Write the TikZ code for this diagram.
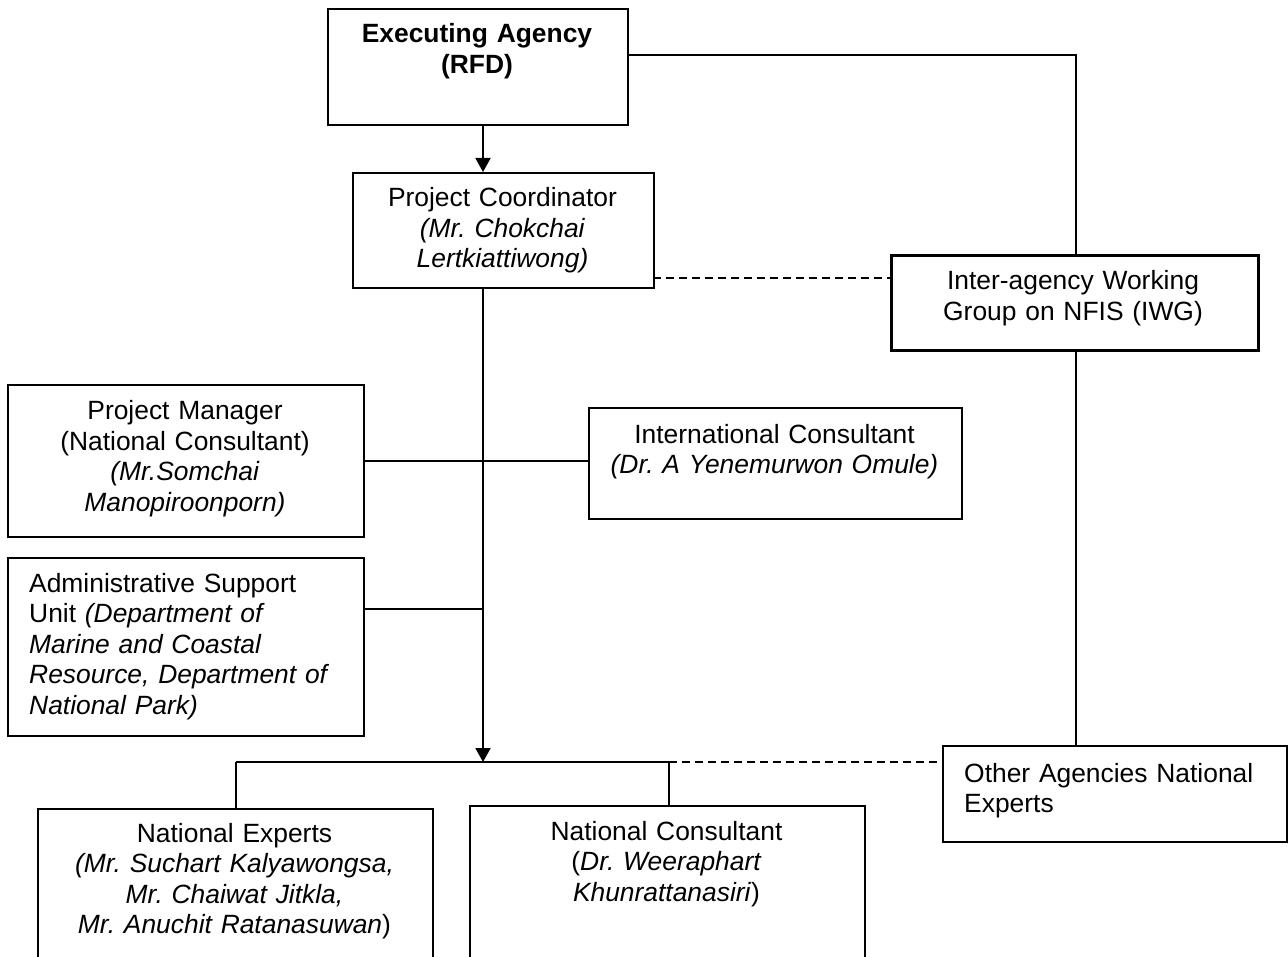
\documentclass[tikz,border=0pt]{standalone}
\usepackage{fontspec}
\setmainfont{Liberation Sans}
\usetikzlibrary{arrows.meta}
\begin{document}
\frenchspacing
\begin{tikzpicture}[x=1pt,y=-1pt,
  box/.style={draw, line width=1.7pt, inner sep=0pt, anchor=north west},
  boldbox/.style={box, line width=3.3pt},
  txt/.style={inner sep=0pt, align=center, font=\fontsize{26.4}{30.5}\selectfont},
  ltxt/.style={inner sep=0pt, align=left, font=\fontsize{26.4}{30.5}\selectfont},
  conn/.style={line width=1.9pt},
  dline/.style={line width=1.7pt, dash pattern=on 8pt off 5pt},
  arr/.style={conn, -{Triangle[width=15pt,length=14pt]}}]
\clip (0,0) rectangle (1288,957);
\fill[white] (0,0) rectangle (1288,957);
% boxes
\node[box, minimum width=300pt, minimum height=116pt] (exec) at (327,8) {};
\node[box, minimum width=301pt, minimum height=115pt] (pc) at (352,172) {};
\node[boldbox, minimum width=367pt, minimum height=95pt] (iwg) at (890,254) {};
\node[box, minimum width=356pt, minimum height=152pt] (pm) at (7,384) {};
\node[box, minimum width=373pt, minimum height=111pt] (ic) at (588,407) {};
\node[box, minimum width=356pt, minimum height=178pt] (admin) at (7,557) {};
\node[box, minimum width=344pt, minimum height=96pt] (other) at (942,745) {};
\node[box, minimum width=395pt, minimum height=170pt] (ne) at (37,808) {};
\node[box, minimum width=395pt, minimum height=170pt] (nc) at (469,805) {};
% texts
\node[txt, text width=300pt, anchor=base] (exect) at (477,43) {\textbf{Executing Agency}\\\textbf{(RFD)}};
\node[txt, text width=300pt, anchor=base] (pct) at (502.5,207) {Project Coordinator\\\textit{(Mr. Chokchai}\\\textit{Lertkiattiwong)}};
\node[txt, text width=360pt, anchor=base] (iwgt) at (1073,290) {Inter-agency Working\\Group on NFIS (IWG)};
\node[txt, text width=350pt, anchor=base] (pmt) at (185,420) {Project Manager\\(National Consultant)\\\textit{(Mr.Somchai}\\\textit{Manopiroonporn)}};
\node[txt, text width=370pt, anchor=base] (ict) at (774.5,443) {International Consultant\\\textit{(Dr. A Yenemurwon Omule)}};
\node[ltxt, text width=330pt, anchor=base west] (admint) at (29,592) {Administrative Support\\Unit \textit{(Department of}\\\textit{Marine and Coastal}\\\textit{Resource, Department of}\\\textit{National Park)}};
\node[ltxt, text width=320pt, anchor=base west] (othert) at (964,782) {Other Agencies National\\Experts};
\node[txt, text width=390pt, anchor=base] (net) at (234.5,842) {National Experts\\\textit{(Mr. Suchart Kalyawongsa,}\\\textit{Mr. Chaiwat Jitkla,}\\\textit{Mr. Anuchit Ratanasuwan})};
\node[txt, text width=390pt, anchor=base] (nct) at (666.5,840) {National Consultant\\(\textit{Dr. Weeraphart}\\\textit{Khunrattanasiri})};
% coordinates
\coordinate (bus) at (483,762);
\coordinate (busL) at (236,762);
\coordinate (busR) at (669,762);
\coordinate (tr) at (1076,55);
\coordinate (d1) at (653,278);
\coordinate (aj) at (483,609);
% connectors
\draw[arr] (exec.south -| bus) -- (pc.north -| bus);
\draw[arr] (pc.south -| bus) -- (bus);
\draw[conn] (exec.east |- tr) -- (tr) -- (tr |- iwg.north);
\draw[conn] (tr |- iwg.south) -- (tr |- other.north);
\draw[dline] (d1) -- (d1 -| iwg.west);
\draw[conn] (pm.east) -- (pm.east -| ic.west);
\draw[conn] (aj -| admin.east) -- (aj);
\draw[conn] (busL) -- (busR);
\draw[conn] (busL) -- (busL |- ne.north);
\draw[conn] (busR) -- (busR |- nc.north);
\draw[dline] (busR) -- (busR -| other.west);
\end{tikzpicture}
\end{document}
